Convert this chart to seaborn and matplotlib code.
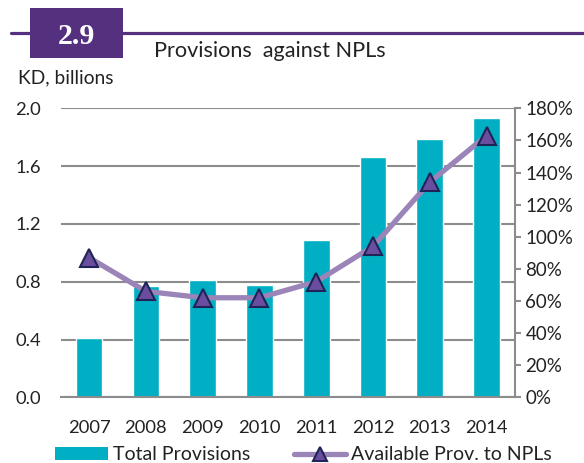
import numpy as np
import pandas as pd
import matplotlib
matplotlib.use("Agg")
import matplotlib.pyplot as plt
import seaborn as sns
from matplotlib.patches import Rectangle, Patch
from matplotlib.lines import Line2D

years = ["2007", "2008", "2009", "2010", "2011", "2012", "2013", "2014"]
total_provisions = [0.41, 0.77, 0.81, 0.78, 1.09, 1.66, 1.79, 1.93]
prov_to_npls = [87, 66, 62, 62, 72, 94, 134, 163]
left_ticks = [0.0, 0.4, 0.8, 1.2, 1.6, 2.0]
right_ticks = [0, 20, 40, 60, 80, 100, 120, 140, 160, 180]

BAR = "#00AFC4"
LINE = "#9A84B8"
TRI = "#6B4DA0"
TRI_EDGE = "#1E2556"
HEAD = "#55307F"
GRID = "#8C8C8C"
TXT = "#222222"

sns.set_theme(style="white")
plt.rcParams["font.family"] = ["Lato", "DejaVu Sans"]

W, H = 584, 463
fig = plt.figure(figsize=(W / 100, H / 100), dpi=100)

def fx(x):
    return x / W

def fy(y):
    return 1 - y / H

ax = fig.add_axes([fx(60.7), fy(397.3), fx(515 - 60.7), (397.3 - 108.3) / H])
df = pd.DataFrame({"year": years, "prov": total_provisions, "ratio": prov_to_npls})

sns.barplot(data=df, x="year", y="prov", color=BAR, width=0.47, ax=ax,
            saturation=1, zorder=2)
ax.set_ylim(0, 2.0)
ax.set_xlim(-0.5, 7.5)
ax.set_yticks(left_ticks)
ax.set_yticklabels([f"{v:.1f}" for v in left_ticks])
ax.yaxis.grid(True, color=GRID, linewidth=1.5)
ax.set_axisbelow(True)
ax.set_xlabel("")
ax.set_ylabel("")
for s in ["top", "right", "left"]:
    ax.spines[s].set_visible(False)
ax.spines["bottom"].set_color(GRID)
ax.spines["bottom"].set_linewidth(1.5)
ax.tick_params(axis="y", length=0, pad=14, labelsize=13.2, labelcolor=TXT)
ax.tick_params(axis="x", length=0, pad=16.5, labelsize=13.2, labelcolor=TXT)

ax2 = ax.twinx()
sns.lineplot(data=df, x="year", y="ratio", ax=ax2, color=LINE, linewidth=3.8,
             marker="^", markersize=13, markerfacecolor=TRI,
             markeredgecolor=TRI_EDGE, markeredgewidth=1.5, zorder=5)
ax2.set_ylim(0, 180)
ax2.set_xlim(-0.5, 7.5)
ax2.set_yticks(right_ticks)
ax2.set_yticklabels([f"{v}%" for v in right_ticks])
ax2.set_ylabel("")
ax2.set_xlabel("")
for s in ["top", "left", "bottom"]:
    ax2.spines[s].set_visible(False)
ax2.spines["right"].set_visible(True)
ax2.spines["right"].set_color(GRID)
ax2.spines["right"].set_linewidth(1.5)
ax2.tick_params(axis="y", length=4.5, width=1.5, color=GRID, pad=3,
                labelsize=13.5, labelcolor=TXT, right=True)
ax2.grid(False)

# header
fig.add_artist(Line2D([fx(11), 1], [fy(33.3), fy(33.3)], color=HEAD, linewidth=2.3,
                      transform=fig.transFigure))
fig.add_artist(Rectangle((fx(30), fy(58.3)), fx(123 - 30), (58.3 - 8.3) / H,
                         facecolor=HEAD, edgecolor="none", transform=fig.transFigure))
fig.text(fx(76), fy(44), "2.9", color="white", fontsize=21.5, fontweight="bold",
         family="Liberation Serif", ha="center", va="baseline")
fig.text(fx(154), fy(56.7), "Provisions  against NPLs", color=TXT, fontsize=15.6,
         ha="left", va="baseline")
fig.text(fx(18), fy(83.3), "KD, billions", color=TXT, fontsize=13.8,
         ha="left", va="baseline")

handles = [
    Patch(facecolor=BAR, edgecolor="none"),
    Line2D([0], [0], color=LINE, linewidth=3.8, marker="^", markersize=10,
           markerfacecolor=TRI, markeredgecolor=TRI_EDGE, markeredgewidth=1.5),
]
fig.legend(handles, ["Total Provisions", "Available Prov. to NPLs"], ncol=2,
           loc="center left", bbox_to_anchor=(fx(55), fy(455)), frameon=False,
           fontsize=14, handlelength=2.7, handleheight=0.6, handletextpad=0.26,
           columnspacing=2.25, labelcolor=TXT, borderaxespad=0, borderpad=0)

fig.savefig("out.png", dpi=100)
